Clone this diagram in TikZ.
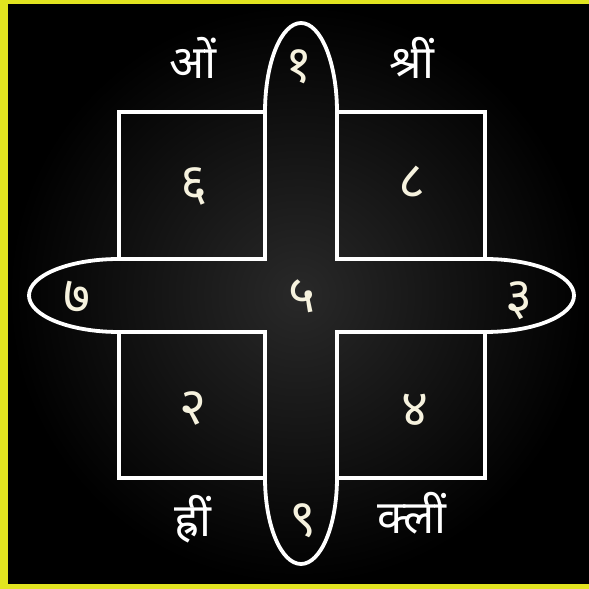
\documentclass[tikz,border=0pt]{standalone}
\usepackage{fontspec}
\newfontfamily\devfont[Script=Devanagari]{Noto Sans}
\usepackage{xcolor}
\definecolor{frameyellow}{RGB}{226,228,32}
\definecolor{chalk}{RGB}{246,242,222}

\begin{document}
\begin{tikzpicture}[
        x=1pt, y=1pt,
        box/.style={draw=white, line width=3.8pt},
        bandend/.style={draw=white, line width=3.8pt},
        digit/.style={text=chalk, inner sep=0pt, font=\devfont\fontsize{52}{52}\selectfont},
        mantra/.style={text=white, inner sep=0pt, font=\devfont\fontsize{46}{46}\selectfont}
    ]
        \useasboundingbox (0,0) rectangle (589,589);
        \fill[frameyellow] (0,0) rectangle (589,589);
        \shade[inner color=black!84, outer color=black] (8,5) rectangle (589,584);
        % four squares
        \draw[box] (119,330) rectangle (265,477);
        \draw[box] (337,330) rectangle (485,477);
        \draw[box] (119,111) rectangle (265,257);
        \draw[box] (337,111) rectangle (485,257);
        % rounded ends of the two bands
        \draw[bandend] (265,477) arc[start angle=180, end angle=0, x radius=36pt, y radius=89pt];
        \draw[bandend] (265,111) arc[start angle=180, end angle=360, x radius=36pt, y radius=86pt];
        \draw[bandend] (119,330) arc[start angle=90, end angle=270, x radius=90pt, y radius=36.5pt];
        \draw[bandend] (485,330) arc[start angle=90, end angle=-90, x radius=89pt, y radius=36.5pt];
        % numbers
        \node[digit] (one) at (299,522) {१};
        \node[digit] (six) at (194,403) {६};
        \node[digit] (eight) at (412,407) {८};
        \node[digit] (seven) at (77,292) {७};
        \node[digit] (five) at (302,293) {५};
        \node[digit] (three) at (519,288) {३};
        \node[digit] (two) at (193,181) {२};
        \node[digit] (four) at (415,179) {४};
        \node[digit] (nine) at (303,68) {९};
        % bija syllables
        \node[mantra] (om) at (193,531) {ओं};
        \node[mantra] (shrim) at (412,531) {श्रीं};
        \node[mantra] (hrim) at (193,70) {ह्रीं};
        \node[mantra] (klim) at (412,76) {क्लीं};
    \end{tikzpicture}
\end{document}
